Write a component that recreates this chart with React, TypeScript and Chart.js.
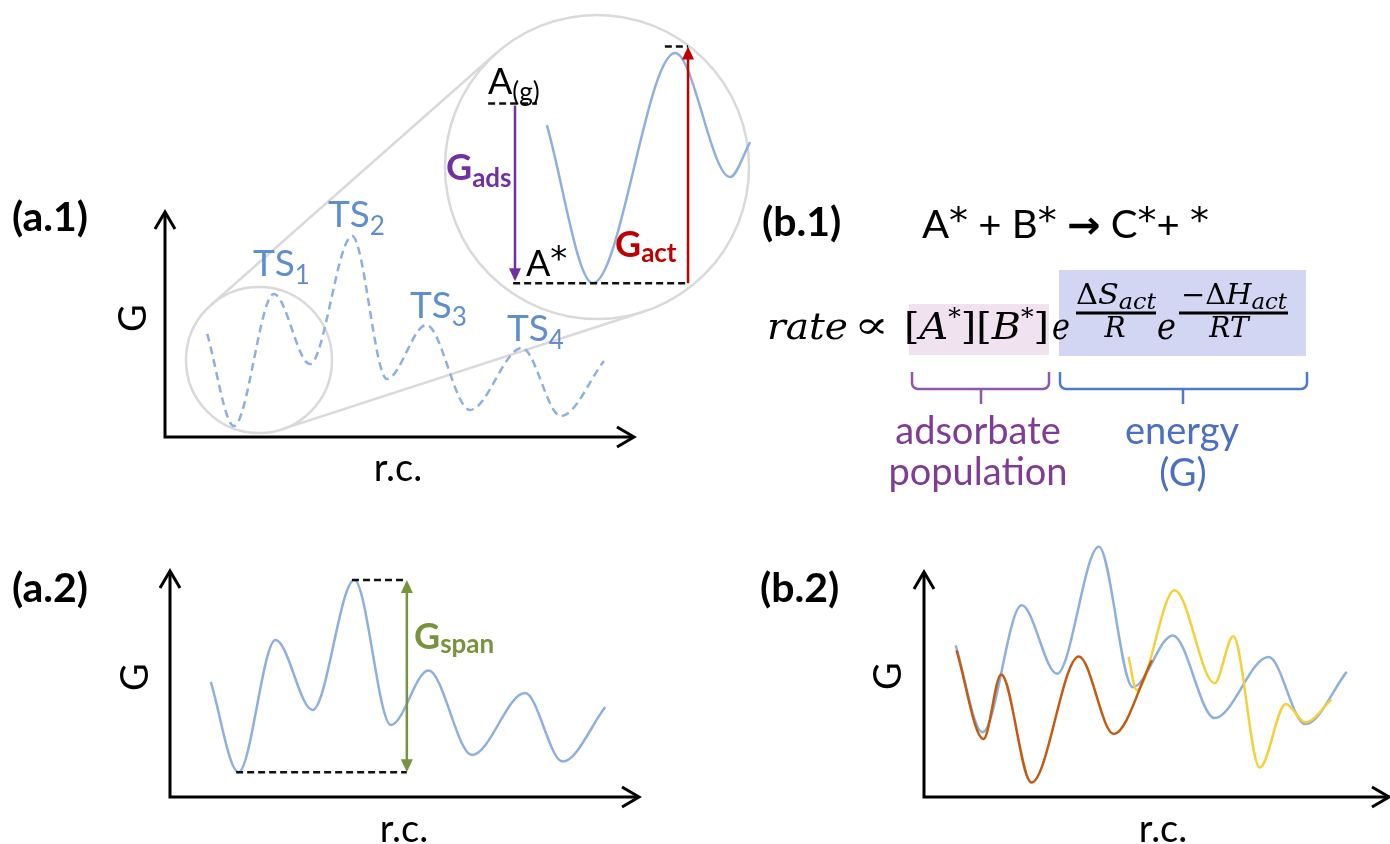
import React, { useEffect, useRef } from "react";
import { Chart, registerables } from "chart.js";

Chart.register(...registerables);

const W = 1390;
const H = 844;

// ---------------- data (each panel: r.c. 0–100 along x-axis, G 0–100 along y-axis) ----------------
// (a.1) dashed free-energy profile
const A1_RC = [9.0, 14.7, 23.2, 30.9, 39.9, 47.3, 55.7, 65.0, 76.1, 84.4, 93.6];
const A1_G = [45.8, 4.9, 63.6, 32.4, 89.3, 25.8, 49.8, 12.0, 39.6, 9.3, 33.8];

// magnified inset of the first step
const Z_RC = [33.6, 48.5, 75.1, 92.9, 99.4];
const Z_G = [63.8, 11.8, 87.5, 46.7, 58.2];
const Z_GAS_LEVEL = 70.9; // A(g)
const Z_TS_LEVEL = 89.6; // transition state level

// (a.2) profile
const A2_RC = [8.7, 14.6, 22.5, 30.4, 39.3, 47.1, 55.1, 64.4, 75.7, 83.7, 92.8];
const A2_G = [50.9, 11.0, 69.5, 38.5, 96.0, 31.9, 56.0, 18.6, 46.0, 15.7, 39.8];

// (b.2) three competing profiles
const B2_BLUE_RC = [6.8, 12.6, 21.0, 28.6, 37.6, 44.9, 53.5, 62.5, 74.1, 82.0, 90.9];
const B2_BLUE_G = [67.4, 28.8, 85.2, 54.8, 111.2, 48.8, 71.8, 35.1, 62.2, 32.4, 55.6];
const B2_ORANGE_RC = [7.0, 12.8, 16.6, 23.1, 33.3, 40.8, 49.0];
const B2_ORANGE_G = [65.2, 25.8, 54.4, 6.4, 62.5, 28.0, 60.7];
const B2_YELLOW_RC = [44.0, 45.7, 53.9, 62.5, 66.5, 72.2, 77.8, 82.0, 87.6];
const B2_YELLOW_G = [62.2, 47.6, 91.9, 50.6, 71.4, 13.1, 41.3, 33.2, 43.2];

const TS_SUBS = ["1", "2", "3", "4"];

// ---------------- layout (pixels) ----------------
const PANELS: Record<string, { x0: number; x1: number; y0: number; y1: number }> = {
  a1: { x0: 165, x1: 634, y0: 437, y1: 212 },
  a2: { x0: 170, x1: 639, y0: 797, y1: 571 },
  b2: { x0: 924, x1: 1389, y0: 797, y1: 572 },
  z: { x0: 443, x1: 752, y0: 319, y1: 15 },
};
const SMALL_CIRCLE = { cx: 259, cy: 360, r: 73 };
const BIG_CIRCLE = { cx: 597, cy: 167, r: 152 };
const TS_LABEL_POS = [
  [253, 276],
  [328, 227],
  [410, 318],
  [507, 341],
];

// ---------------- styles ----------------
const SANS = 'Lato, "Open Sans", sans-serif';
const STAR = '"DejaVu Sans", sans-serif';
const SERIF = '"DejaVu Serif", "Liberation Serif", serif';
const CURVE_BLUE = "#8DB0DF";
const TS_BLUE = "#5E8ED0";
const ORANGE = "#C55A11";
const YELLOW = "#F4D03A";
const PURPLE = "#7030A0";
const RED = "#C00000";
const GREEN = "#77933C";
const GRAY = "#D9D9D9";
const BRACKET_PURPLE = "#8E57AA";
const TEXT_PURPLE = "#7F3B97";
const BRACKET_BLUE = "#4F79C9";
const TEXT_BLUE = "#4A6FC4";

function xScale(p: { x0: number; x1: number }) {
  const k = (p.x1 - p.x0) / 100;
  return { type: "linear", display: false, bounds: "data", min: -p.x0 / k, max: (W - p.x0) / k };
}
function yScale(p: { y0: number; y1: number }) {
  const s = (p.y0 - p.y1) / 100;
  const max = p.y0 / s;
  return { type: "linear", display: false, bounds: "data", min: max - H / s, max };
}

const pts = (rc: number[], g: number[]) => rc.map((x, i) => ({ x, y: g[i] }));

type Seg = { t: string; f: string; dy?: number };

function rich(
  ctx: CanvasRenderingContext2D,
  segs: Seg[],
  x: number,
  y: number,
  color: string,
  align: "left" | "center" = "left",
  width?: number
) {
  const widths = segs.map((s) => {
    ctx.font = s.f;
    return ctx.measureText(s.t).width;
  });
  const nat = widths.reduce((a, b) => a + b, 0);
  const sx = width ? width / nat : 1;
  const total = nat * sx;
  const start = align === "center" ? x - total / 2 : x;
  ctx.save();
  ctx.fillStyle = color;
  ctx.textAlign = "left";
  ctx.textBaseline = "alphabetic";
  ctx.translate(start, y);
  ctx.scale(sx, 1);
  let cx = 0;
  segs.forEach((s, i) => {
    ctx.font = s.f;
    ctx.fillText(s.t, cx, s.dy || 0);
    cx += widths[i];
  });
  ctx.restore();
}

function vText(ctx: CanvasRenderingContext2D, t: string, cx: number, cy: number, size: number) {
  ctx.save();
  ctx.fillStyle = "#000";
  ctx.font = `${size}px ${SANS}`;
  ctx.textAlign = "center";
  ctx.textBaseline = "alphabetic";
  ctx.translate(cx + size * 0.36, cy);
  ctx.rotate(-Math.PI / 2);
  ctx.fillText(t, 0, 0);
  ctx.restore();
}

function chevron(ctx: CanvasRenderingContext2D, x: number, y: number, dx: number, dy: number, back: number, half: number) {
  ctx.beginPath();
  ctx.moveTo(x - dx * back - dy * half, y - dy * back + dx * half);
  ctx.lineTo(x, y);
  ctx.lineTo(x - dx * back + dy * half, y - dy * back - dx * half);
  ctx.stroke();
}
function tri(ctx: CanvasRenderingContext2D, x: number, y: number, dx: number, dy: number, len: number, half: number) {
  ctx.beginPath();
  ctx.moveTo(x, y);
  ctx.lineTo(x - dx * len - dy * half, y - dy * len + dx * half);
  ctx.lineTo(x - dx * len + dy * half, y - dy * len - dx * half);
  ctx.closePath();
  ctx.fill();
}

function argMax(a: number[]) {
  return a.reduce((bi, v, i) => (v > a[bi] ? i : bi), 0);
}
function argMin(a: number[]) {
  return a.reduce((bi, v, i) => (v < a[bi] ? i : bi), 0);
}

const decoPlugin = {
  id: "deco",
  beforeDatasetsDraw(chart: any) {
    const ctx: CanvasRenderingContext2D = chart.ctx;
    ctx.save();
    // highlight boxes in (b.1)
    ctx.fillStyle = "#F1E2F0";
    ctx.fillRect(909, 304, 140, 51);
    ctx.fillStyle = "#D2D6F3";
    ctx.fillRect(1059, 270, 247, 86);

    // magnifier circles + external tangents
    ctx.strokeStyle = GRAY;
    ctx.lineWidth = 2.5;
    [SMALL_CIRCLE, BIG_CIRCLE].forEach((c) => {
      ctx.beginPath();
      ctx.arc(c.cx, c.cy, c.r, 0, Math.PI * 2);
      ctx.stroke();
    });
    const c1 = SMALL_CIRCLE, c2 = BIG_CIRCLE;
    const dxc = c2.cx - c1.cx, dyc = c2.cy - c1.cy;
    const d = Math.hypot(dxc, dyc);
    const ux = dxc / d, uy = dyc / d;
    const k = (c2.r - c1.r) / d;
    const q = Math.sqrt(1 - k * k);
    [1, -1].forEach((sg) => {
      const nx = k * ux + sg * q * -uy;
      const ny = k * uy + sg * q * ux;
      ctx.beginPath();
      ctx.moveTo(c1.cx - c1.r * nx, c1.cy - c1.r * ny);
      ctx.lineTo(c2.cx - c2.r * nx, c2.cy - c2.r * ny);
      ctx.stroke();
    });
    ctx.restore();
  },
  afterDatasetsDraw(chart: any) {
    const ctx: CanvasRenderingContext2D = chart.ctx;
    const P = (id: string, rc: number, g: number) => [
      chart.scales["x" + id].getPixelForValue(rc),
      chart.scales["y" + id].getPixelForValue(g),
    ];
    ctx.save();

    // axes with open arrowheads
    ctx.strokeStyle = "#000";
    ctx.lineWidth = 3;
    ctx.lineJoin = "miter";
    ["a1", "a2", "b2"].forEach((id) => {
      const [ox, oy] = P(id, 0, 0);
      const [tx] = P(id, 100, 0);
      const [, ty] = P(id, 0, 100);
      ctx.beginPath();
      ctx.moveTo(ox, ty + 1);
      ctx.lineTo(ox, oy);
      ctx.lineTo(tx - 1, oy);
      ctx.stroke();
      chevron(ctx, ox, ty, 0, -1, 17, 10);
      chevron(ctx, tx, oy, 1, 0, 17, 10);
    });

    // dashed reference levels
    ctx.setLineDash([7, 4]);
    ctx.lineWidth = 2.5;
    ctx.strokeStyle = "#111";
    const dash = (id: string, a: number, b: number, g: number) => {
      const [xa, y] = P(id, a, g);
      const [xb] = P(id, b, g);
      ctx.beginPath();
      ctx.moveTo(xa, y);
      ctx.lineTo(xb, y);
      ctx.stroke();
    };
    const zMin = Z_G[argMin(Z_G)];
    const gadsX = 23.3, gactX = 79.3;
    dash("z", 14.6, 30.4, Z_GAS_LEVEL);
    dash("z", 22.7, gactX, zMin);
    dash("z", 71.8, gactX, Z_TS_LEVEL);
    const iMax = argMax(A2_G), iMin = argMin(A2_G);
    const spanX = 50.5;
    dash("a2", A2_RC[iMax] - 0.5, spanX, A2_G[iMax]);
    dash("a2", A2_RC[iMin] - 0.5, spanX, A2_G[iMin]);
    ctx.setLineDash([]);

    // vertical arrows (G_ads, G_act, G_span)
    const vArrow = (id: string, x: number, gFrom: number, gTo: number, color: string, both: boolean) => {
      const [px, y1] = P(id, x, gFrom);
      const [, y2] = P(id, x, gTo);
      const dir = y2 > y1 ? 1 : -1;
      ctx.strokeStyle = color;
      ctx.fillStyle = color;
      ctx.lineWidth = 2.5;
      ctx.beginPath();
      ctx.moveTo(px, both ? y1 + dir * 10 : y1);
      ctx.lineTo(px, y2 - dir * 10);
      ctx.stroke();
      tri(ctx, px, y2, 0, dir, 13, 6);
      if (both) tri(ctx, px, y1, 0, -dir, 13, 6);
    };
    vArrow("z", gadsX, Z_GAS_LEVEL - 0.7, zMin + 0.6, PURPLE, false);
    vArrow("z", gactX, zMin, Z_TS_LEVEL, RED, false);
    vArrow("a2", spanX, A2_G[iMin], A2_G[iMax], GREEN, true);

    // panel labels
    const bold41 = `bold 41px ${SANS}`;
    rich(ctx, [{ t: "(a.1)", f: bold41 }], 12, 231, "#000");
    rich(ctx, [{ t: "(b.1)", f: bold41 }], 762, 236, "#000");
    rich(ctx, [{ t: "(a.2)", f: bold41 }], 12, 602, "#000");
    rich(ctx, [{ t: "(b.2)", f: bold41 }], 760, 602, "#000");

    // axis titles
    const f38 = `38px ${SANS}`;
    const star38 = `36px ${STAR}`;
    const sdy = -6;
    vText(ctx, "G", 132, 318, 38);
    vText(ctx, "G", 134, 677, 38);
    vText(ctx, "G", 887, 676, 38);
    rich(ctx, [{ t: "r.c.", f: f38 }], 398, 481, "#000", "center");
    rich(ctx, [{ t: "r.c.", f: f38 }], 404, 842, "#000", "center");
    rich(ctx, [{ t: "r.c.", f: f38 }], 1163, 842, "#000", "center");

    // TS labels
    TS_SUBS.forEach((s, i) => {
      const [x, y] = TS_LABEL_POS[i];
      rich(
        ctx,
        [
          { t: "TS", f: `37px ${SANS}` },
          { t: s, f: `26px ${SANS}`, dy: 8 },
        ],
        x,
        y,
        TS_BLUE
      );
    });

    // inset labels
    rich(ctx, [{ t: "A", f: `36px ${SANS}` }, { t: "(g)", f: `26px ${SANS}`, dy: 7 }], 488, 94, "#000");
    rich(ctx, [{ t: "A", f: `36px ${SANS}` }, { t: "*", f: `34px ${STAR}`, dy: sdy }], 526, 276, "#000");
    rich(ctx, [{ t: "G", f: `bold 36px ${SANS}` }, { t: "ads", f: `bold 26px ${SANS}`, dy: 7 }], 446, 180, PURPLE);
    rich(ctx, [{ t: "G", f: `bold 36px ${SANS}` }, { t: "act", f: `bold 26px ${SANS}`, dy: 5 }], 615, 257, RED);
    rich(ctx, [{ t: "G", f: `bold 36px ${SANS}` }, { t: "span", f: `bold 26px ${SANS}`, dy: 4 }], 414, 649, GREEN);

    // (b.1) reaction and rate expression
    rich(
      ctx,
      [
        { t: "A", f: f38 },
        { t: "*", f: star38, dy: sdy },
        { t: " + B", f: f38 },
        { t: "*", f: star38, dy: sdy },
        { t: " ", f: f38 },
        { t: "\u2192", f: `bold 38px ${STAR}` },
        { t: " C", f: f38 },
        { t: "*", f: star38, dy: sdy },
        { t: "+ ", f: f38 },
        { t: "*", f: star38, dy: sdy },
      ],
      922,
      238,
      "#000",
      "left",
      287
    );
    const it38 = `italic 38px ${SERIF}`;
    const rg38 = `38px ${SERIF}`;
    rich(ctx, [{ t: "rate", f: it38 }], 767, 339, "#000", "left", 81);
    rich(ctx, [{ t: "\u221D", f: rg38 }], 854, 338, "#000", "left", 35);
    rich(
      ctx,
      [
        { t: "[", f: rg38 },
        { t: "A", f: it38 },
        { t: "*", f: `24px ${SERIF}`, dy: -14 },
        { t: "][", f: rg38 },
        { t: "B", f: it38 },
        { t: "*", f: `24px ${SERIF}`, dy: -14 },
        { t: "]", f: rg38 },
      ],
      904,
      339,
      "#000",
      "left",
      145
    );
    rich(ctx, [{ t: "e", f: it38 }], 1052, 339, "#000", "left", 18);
    rich(ctx, [{ t: "e", f: it38 }], 1157, 339, "#000", "left", 19);
    const it28 = `italic 28px ${SERIF}`;
    const rg28 = `28px ${SERIF}`;
    const it22 = `italic 22px ${SERIF}`;
    rich(ctx, [{ t: "\u0394", f: rg28 }, { t: "S", f: it28 }, { t: "act", f: it22, dy: 5 }], 1076, 304, "#000", "left", 80);
    rich(ctx, [{ t: "\u2212\u0394", f: rg28 }, { t: "H", f: it28 }, { t: "act", f: it22, dy: 5 }], 1181, 304, "#000", "left", 106);
    ctx.fillStyle = "#000";
    ctx.fillRect(1076, 311.5, 80, 3);
    ctx.fillRect(1179, 311.5, 109, 3);
    rich(ctx, [{ t: "R", f: it28 }], 1115, 337, "#000", "center");
    rich(ctx, [{ t: "RT", f: it28 }], 1229, 337, "#000", "center");

    // braces
    const brace = (l: number, r: number, mid: number, color: string) => {
      const top = 372, bot = 389, stem = 404, rad = 6;
      ctx.strokeStyle = color;
      ctx.lineWidth = 2.5;
      ctx.beginPath();
      ctx.moveTo(l, top);
      ctx.arcTo(l, bot, l + rad, bot, rad);
      ctx.arcTo(r, bot, r, bot - rad, rad);
      ctx.lineTo(r, top);
      ctx.moveTo(mid, bot);
      ctx.lineTo(mid, stem);
      ctx.stroke();
    };
    brace(912, 1049, 981, BRACKET_PURPLE);
    brace(1060, 1307, 1183, BRACKET_BLUE);
    rich(ctx, [{ t: "adsorbate", f: f38 }], 978, 444, TEXT_PURPLE, "center");
    rich(ctx, [{ t: "population", f: f38 }], 978, 485, TEXT_PURPLE, "center");
    rich(ctx, [{ t: "energy", f: f38 }], 1182, 444, TEXT_BLUE, "center");
    rich(ctx, [{ t: "(G)", f: f38 }], 1183, 486, TEXT_BLUE, "center");

    ctx.restore();
  },
};

export default function App() {
  const ref = useRef<HTMLCanvasElement>(null);
  useEffect(() => {
    const common = { pointRadius: 0, borderWidth: 2.5, fill: false, cubicInterpolationMode: "monotone" };
    const chart = new Chart(ref.current as HTMLCanvasElement, {
      type: "line",
      data: {
        datasets: [
          { ...common, data: pts(A1_RC, A1_G), xAxisID: "xa1", yAxisID: "ya1", borderColor: CURVE_BLUE, borderDash: [8, 5] },
          { ...common, data: pts(Z_RC, Z_G), xAxisID: "xz", yAxisID: "yz", borderColor: CURVE_BLUE },
          { ...common, data: pts(A2_RC, A2_G), xAxisID: "xa2", yAxisID: "ya2", borderColor: CURVE_BLUE },
          { ...common, data: pts(B2_ORANGE_RC, B2_ORANGE_G), xAxisID: "xb2", yAxisID: "yb2", borderColor: ORANGE },
          { ...common, data: pts(B2_YELLOW_RC, B2_YELLOW_G), xAxisID: "xb2", yAxisID: "yb2", borderColor: YELLOW },
          { ...common, data: pts(B2_BLUE_RC, B2_BLUE_G), xAxisID: "xb2", yAxisID: "yb2", borderColor: CURVE_BLUE },
        ] as any,
      },
      options: {
        animation: false,
        responsive: false,
        events: [],
        layout: { padding: 0 },
        plugins: { legend: { display: false }, tooltip: { enabled: false } },
        scales: {
          xa1: xScale(PANELS.a1),
          ya1: yScale(PANELS.a1),
          xa2: xScale(PANELS.a2),
          ya2: yScale(PANELS.a2),
          xb2: xScale(PANELS.b2),
          yb2: yScale(PANELS.b2),
          xz: xScale(PANELS.z),
          yz: yScale(PANELS.z),
        } as any,
      },
      plugins: [decoPlugin as any],
    });
    return () => chart.destroy();
  }, []);
  return (
    <div style={{ position: "absolute", left: 0, top: 0, width: W, height: H, background: "#fff" }}>
      <canvas ref={ref} width={W} height={H} style={{ display: "block", width: W, height: H }} />
    </div>
  );
}
